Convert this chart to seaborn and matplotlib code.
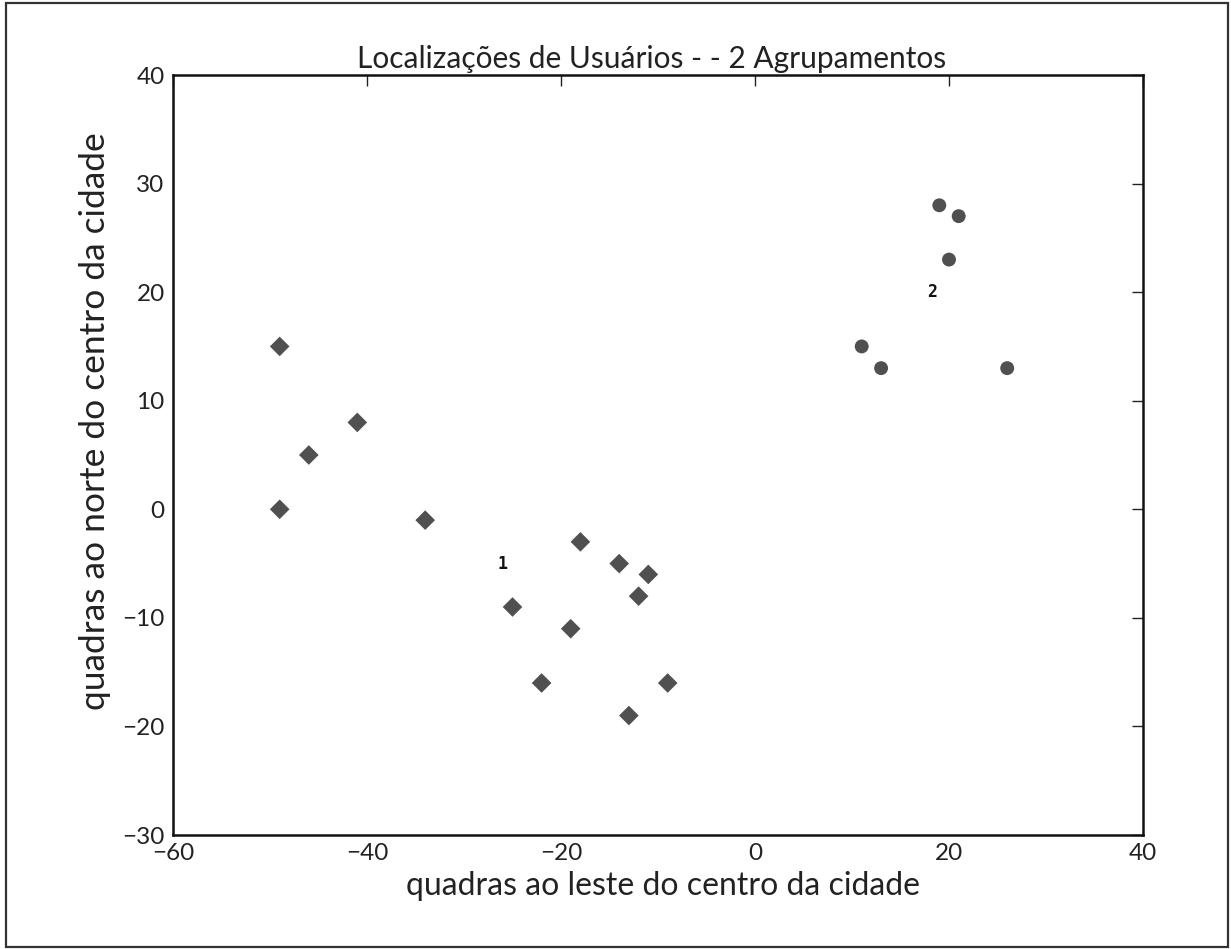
import matplotlib
matplotlib.use("Agg")
import matplotlib.pyplot as plt
import seaborn as sns
import pandas as pd
from matplotlib.patches import Rectangle

# User locations (blocks east / north of downtown), grouped into two clusters
cluster1_x = [-49, -46, -41, -49, -34, -18, -14, -11, -12, -25, -19, -22, -9, -13]
cluster1_y = [15, 5, 8, 0, -1, -3, -5, -6, -8, -9, -11, -16, -16, -19]
cluster2_x = [19, 21, 20, 11, 13, 26]
cluster2_y = [28, 27, 23, 15, 13, 13]

# Cluster centre labels
label_text = ["1", "2"]
label_x = [-26, 18.3]
label_y = [-5, 20]

x_ticks = [-60, -40, -20, 0, 20, 40]
y_ticks = [-30, -20, -10, 0, 10, 20, 30, 40]

df = pd.DataFrame({
    "x": cluster1_x + cluster2_x,
    "y": cluster1_y + cluster2_y,
    "cluster": ["1"] * len(cluster1_x) + ["2"] * len(cluster2_x),
})

sns.set_style("white")
plt.rcParams["font.family"] = ["Lato", "DejaVu Sans"]

fig = plt.figure(figsize=(12.31, 9.49), dpi=100)
ax = fig.add_axes([173 / 1231, 1 - 835 / 949, (1143 - 173) / 1231, (835 - 75) / 949])

sns.scatterplot(
    data=df, x="x", y="y", style="cluster", markers={"1": "D", "2": "o"},
    color="#505050", s=100, edgecolor="none", legend=False, ax=ax,
)

for t, lx, ly in zip(label_text, label_x, label_y):
    ax.text(lx, ly, t, ha="center", va="center", fontsize=12,
            fontweight="bold", family="DejaVu Sans Mono", color="#111111")

ax.set_xlim(-60, 40)
ax.set_ylim(-30, 40)
ax.set_xticks(x_ticks)
ax.set_yticks(y_ticks)
ax.tick_params(direction="in", length=8, width=1, top=True, right=True,
               labelsize=17.5, pad=6, colors="#222222")
for sp in ax.spines.values():
    sp.set_visible(True)
    sp.set_linewidth(1.8)
    sp.set_color("#111111")

ax.set_title("Localizações de Usuários - - 2 Agrupamentos", fontsize=21.5, pad=5,
             x=0.493, color="#222222")
ax.set_xlabel("quadras ao leste do centro da cidade", fontsize=23,
              color="#222222")
ax.set_ylabel("quadras ao norte do centro da cidade", fontsize=25.5,
              color="#222222")
ax.xaxis.set_label_coords(0.505, -0.048)
ax.yaxis.set_label_coords(-0.064, 0.545)

# Frame around the whole figure
fig.patches.append(Rectangle((6 / 1231, 2 / 949), 1222 / 1231, 944 / 949,
                             transform=fig.transFigure, fill=False,
                             edgecolor="#333333", linewidth=1.6))

fig.savefig("out.png", dpi=100)
